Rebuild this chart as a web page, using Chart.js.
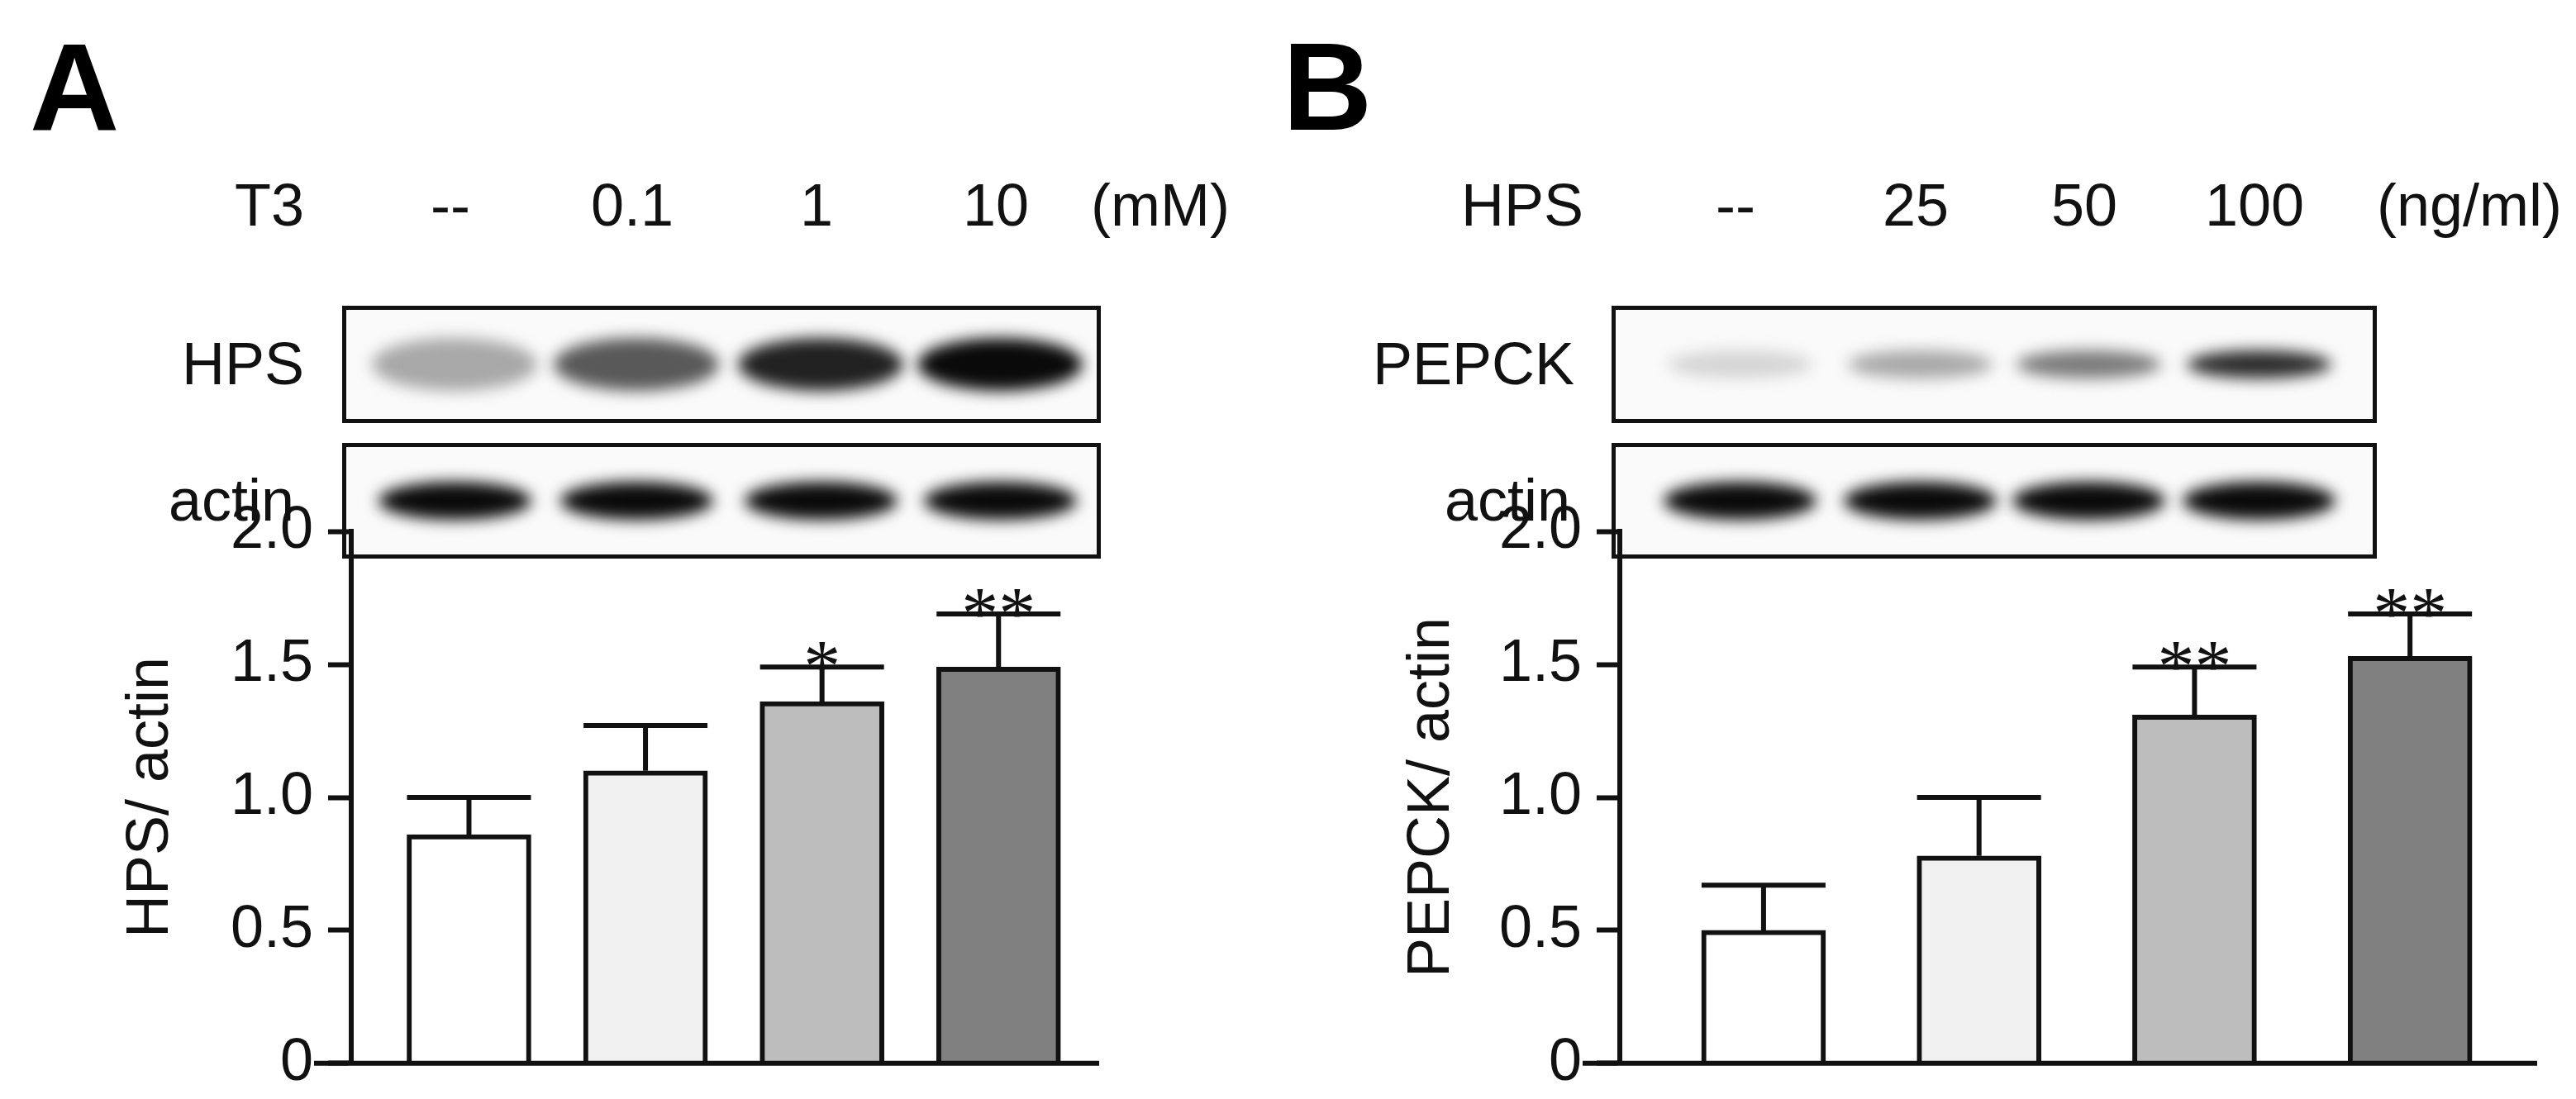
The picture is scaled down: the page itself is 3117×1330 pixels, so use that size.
<!DOCTYPE html>
<html>
<head>
<meta charset="utf-8">
<script src="https://cdn.jsdelivr.net/npm/chart.js@4"></script>
<style>
  body { margin: 0; width: 3117px; height: 1330px; background: #fff; position: relative; overflow: hidden; font-family: "Liberation Sans", Arial, sans-serif; }
  .txt { position: absolute; font-size: 72px; color: #111; line-height: 1; white-space: nowrap; }
  .letter { position: absolute; font-size: 150px; font-weight: bold; line-height: 1; }
  .box { position: absolute; border: 5px solid #111; background: #fafafa; overflow: hidden; box-sizing: border-box; }
  .band { position: absolute; border-radius: 50%; filter: blur(9px); }
  canvas { position: absolute; }
</style>
</head>
<body>
<div class="letter" style="left:36px;top:30px">A</div>
<div class="letter" style="left:1552px;top:30px">B</div>
<div id="blots"></div>
<canvas id="chartA" style="left:140px;top:582px;width:1200px;height:766px" width="1200" height="766"></canvas>
<canvas id="chartB" style="left:1690px;top:582px;width:1390px;height:766px" width="1390" height="766"></canvas>
<script>
// ---- data ----
const doseA = ["--", "0.1", "1", "10"];
const doseB = ["--", "25", "50", "100"];
const meanA = [0.86, 1.10, 1.36, 1.49];
const sdA = [0.14, 0.17, 0.13, 0.20];
const meanB = [0.50, 0.78, 1.31, 1.53];
const sdB = [0.17, 0.22, 0.18, 0.16];
const starsA = ["", "", "*", "**"];
const starsB = ["", "", "**", "**"];
const barColors = ["#ffffff", "#f0f0f0", "#bdbdbd", "#808080"];
const yTicks = [0, 0.5, 1.0, 1.5, 2.0];
// blot band darkness (0..1)
const hpsBand = [0.3, 0.65, 0.9, 1.0];
const actinBandA = [1, 1, 1, 1];
const pepckBand = [0.1, 0.3, 0.5, 0.85];
const actinBandB = [1, 1, 1, 1];

// ---- text + blots (HTML) ----
const blots = document.getElementById("blots");
function addText(t, x, y, align) {
  const d = document.createElement("div");
  d.className = "txt";
  d.textContent = t;
  d.style.top = (y - 36) + "px";
  if (align === "right") { d.style.right = (3117 - x) + "px"; }
  else if (align === "center") { d.style.left = (x - 200) + "px"; d.style.width = "400px"; d.style.textAlign = "center"; }
  else d.style.left = x + "px";
  blots.appendChild(d);
}
function addBlot(x, y, w, h, centers, dark, thick, bandW) {
  const b = document.createElement("div");
  b.className = "box";
  Object.assign(b.style, { left: x + "px", top: y + "px", width: w + "px", height: h + "px" });
  centers.forEach((c, i) => {
    const band = document.createElement("div");
    band.className = "band";
    const g = Math.round(235 - 225 * dark[i]);
    Object.assign(band.style, {
      left: (c - x - bandW / 2) + "px", top: (h / 2 - thick / 2 - 5) + "px",
      width: bandW + "px", height: thick + "px", background: `rgb(${g},${g},${g})`
    });
    b.appendChild(band);
  });
  blots.appendChild(b);
}
const centersA = [545, 765, 988, 1205];
const centersB = [2100, 2318, 2522, 2728];
addText("T3", 368, 248, "right");
doseA.forEach((t, i) => addText(t, centersA[i], 248, "center"));
addText("(mM)", 1320, 248);
addText("HPS", 368, 440, "right");
addText("actin", 356, 605, "right");
addBlot(414, 370, 918, 142, centersA, hpsBand, 64, 200);
addBlot(414, 536, 918, 140, centersA, actinBandA, 46, 185);

addText("HPS", 1916, 248, "right");
doseB.forEach((t, i) => addText(t, centersB[i], 248, "center"));
addText("(ng/ml)", 2876, 248);
addText("PEPCK", 1905, 440, "right");
addText("actin", 1900, 605, "right");
addBlot(1950, 370, 926, 142, centersB, pepckBand, 34, 175);
addBlot(1950, 536, 926, 140, centersB, actinBandB, 46, 185);

// ---- error bars, stars and extended x axis ----
const errorPlugin = {
  id: "errs",
  afterDatasetsDraw(chart, args, opts) {
    const { ctx, scales: { x, y }, chartArea } = chart;
    ctx.save();
    ctx.strokeStyle = "#111";
    ctx.lineWidth = 6;
    ctx.beginPath();
    ctx.moveTo(chartArea.left - 45, y.getPixelForValue(0));
    ctx.lineTo(chartArea.right, y.getPixelForValue(0));
    ctx.stroke();
    opts.means.forEach((m, i) => {
      const cx = x.getPixelForValue(i);
      const top = y.getPixelForValue(m);
      const end = y.getPixelForValue(m + opts.sds[i]);
      ctx.beginPath();
      ctx.moveTo(cx, top); ctx.lineTo(cx, end);
      ctx.moveTo(cx - 75, end); ctx.lineTo(cx + 75, end);
      ctx.stroke();
      if (opts.stars[i]) {
        ctx.fillStyle = "#111";
        ctx.font = "90px 'Liberation Serif'";
        ctx.textAlign = "center";
        ctx.textBaseline = "alphabetic";
        ctx.fillText(opts.stars[i], cx, end + 30);
      }
    });
    ctx.restore();
  }
};

function makeChart(id, means, sds, stars, title, axisW, xMax) {
  return new Chart(document.getElementById(id), {
    type: "bar",
    data: {
      datasets: [{
        data: means.map((v, i) => ({ x: i, y: v })),
        backgroundColor: barColors,
        borderColor: "#111",
        borderWidth: 6,
        borderSkipped: "bottom",
        barThickness: 150
      }]
    },
    options: {
      responsive: false,
      animation: false,
      layout: { padding: { top: 0, bottom: 0, right: 10 } },
      scales: {
        x: { type: "linear", min: -0.667, max: xMax, display: false, offset: false },
        y: {
          min: 0, max: 2,
          afterFit(s) { s.width = axisW; },
          afterBuildTicks(s) { s.ticks = yTicks.map(v => ({ value: v })); },
          ticks: {
            color: "#111", padding: 18,
            font: { family: "Liberation Sans", size: 72 },
            callback: v => v === 0 ? "0" : v.toFixed(1)
          },
          grid: { drawOnChartArea: false, tickLength: 28, tickWidth: 6, color: "#111" },
          border: { display: true, color: "#111", width: 6 },
          title: { display: true, text: title, color: "#111", padding: 0, font: { family: "Liberation Sans", size: 72 } }
        }
      },
      plugins: {
        legend: { display: false },
        tooltip: { enabled: false },
        errs: { means: means, sds: sds, stars: stars }
      }
    },
    plugins: [errorPlugin]
  });
}

makeChart("chartA", meanA, sdA, starsA, "HPS/ actin", 285, 3.57);
makeChart("chartB", meanB, sdB, starsB, "PEPCK/ actin", 270, 3.59);
</script>
</body>
</html>
